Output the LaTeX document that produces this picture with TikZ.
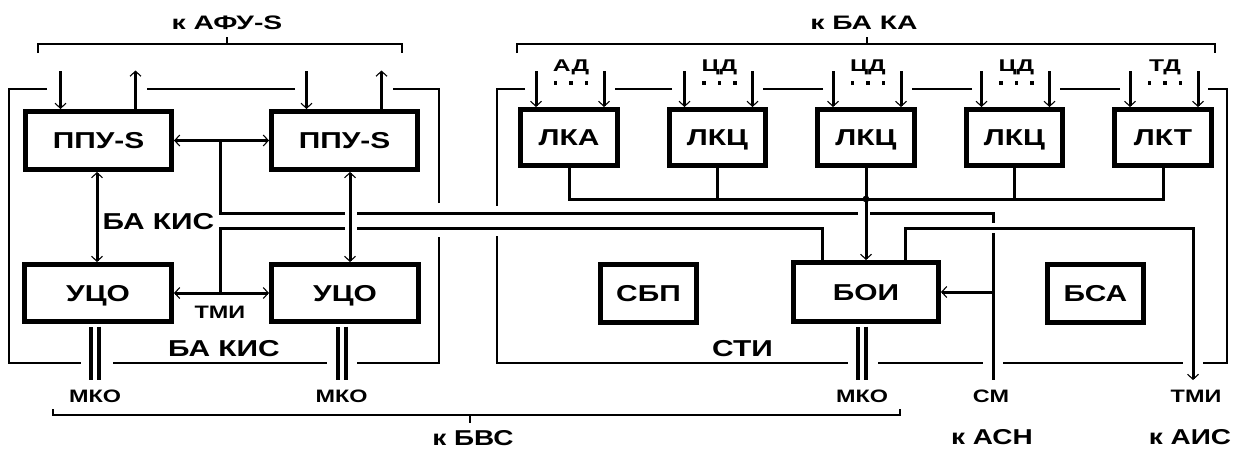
\documentclass[tikz,border=0pt]{standalone}
\usepackage{fontspec}
\setmainfont{Liberation Sans}
\newfontfamily\wf[FakeStretch=1.3]{Liberation Sans}
\newfontfamily\wwf[FakeStretch=1.45]{Liberation Sans}
\usetikzlibrary{arrows.meta,calc}
\tikzset{
  blk/.style={draw, line width=5pt, minimum width=147pt, minimum height=58pt, inner sep=0pt,
    text height=16.5pt, text depth=0pt, font=\wf\bfseries\fontsize{23}{23}\selectfont},
  sblk/.style={blk, minimum width=96.5pt, minimum height=56pt},
  conn/.style={line width=3pt},
  thinl/.style={line width=1.3pt},
  mko/.style={line width=4pt, double=white, double distance=3.5pt},
  labBig/.style={inner sep=0pt, text height=16.5pt, text depth=0pt, font=\wf\bfseries\fontsize{23}{23}\selectfont},
  labTop/.style={inner sep=0pt, text height=14pt, text depth=0pt, font=\wwf\bfseries\fontsize{19.5}{19.5}\selectfont},
  labK/.style={inner sep=0pt, text height=15.5pt, text depth=0pt, font=\wf\bfseries\fontsize{21.5}{21.5}\selectfont},
  labS/.style={inner sep=0pt, text height=13pt, text depth=0pt, font=\wf\bfseries\fontsize{18}{18}\selectfont},
  labD/.style={inner sep=0pt, text height=12pt, text depth=0pt, font=\wwf\bfseries\fontsize{17}{17}\selectfont},
}
\begin{document}
\begin{tikzpicture}[x=1pt,y=-1pt, >={Straight Barb[length=5pt,width=11pt,line width=1.1pt]}]
\useasboundingbox (0,0) rectangle (1238,450);

% boxes
\node[blk, minimum width=146pt, minimum height=58pt] (ppuL) at (98.5,140.5) {ППУ-S};
\node[blk, minimum width=146pt, minimum height=58pt] (ppuR) at (344.5,140.5) {ППУ-S};
\node[blk, minimum width=147pt, minimum height=57pt] (ucoL) at (98,293) {УЦО};
\node[blk, minimum width=147pt, minimum height=57pt] (ucoR) at (345,293) {УЦО};
\node[sblk] (lka) at (569,137.5) {ЛКА};
\node[sblk] (lkc1) at (717.5,137.5) {ЛКЦ};
\node[sblk] (lkc2) at (866,137.5) {ЛКЦ};
\node[sblk] (lkc3) at (1014.5,137.5) {ЛКЦ};
\node[sblk] (lkt) at (1163,137.5) {ЛКТ};
\node[sblk, minimum width=96pt, minimum height=58pt] (sbp) at (648.5,293.5) {СБП};
\node[blk, minimum width=145pt, minimum height=59pt] (boi) at (866,292) {БОИ};
\node[sblk, minimum width=96pt, minimum height=58pt] (bsa) at (1095.5,293.5) {БСА};

% top arrows of PPU
\foreach \b in {ppuL,ppuR}{
  \draw[conn,<-] ([xshift=-38pt]\b.north) -- ++(0,-38.5);
  \draw[conn,->] ([xshift=37pt]\b.north) -- ++(0,-38.5);
}
% top arrows of LK boxes
\foreach \b/\t in {lka/АД,lkc1/ЦД,lkc2/ЦД,lkc3/ЦД,lkt/ТД}{
  \draw[conn,<-] ([xshift=-33pt]\b.north) -- ++(0,-36);
  \draw[conn,<-] ([xshift=35pt]\b.north) -- ++(0,-36);
  \node[labD] (\b-l) at ($(\b.north)+(2,-41.25)$) {\t};
  \foreach \d in {-13.5,2,17.5}
    \fill ($(\b.north)+(\d,-24)$) +(-1.6,-1.6) rectangle +(1.6,1.6);
}

% PPU / UCO links
\draw[conn,<->] (ppuL.east) -- (ppuR.west);
\draw[conn,<->] (ucoL.east) -- (ucoR.west);
\draw[conn,<->] ([xshift=-1.5pt]ppuL.south) -- ([xshift=-1pt]ucoL.north);
\draw[conn,<->] ([xshift=5.5pt]ppuR.south) -- ([xshift=5pt]ucoR.north);

\coordinate (j1) at (220,140.5);
\coordinate (j2) at (220,293);
\coordinate (a1) at (345,213);  \coordinate (b1) at (357,213);
\coordinate (c1) at (858,213);  \coordinate (d1) at (870,213);
\coordinate (e1) at (993,223);  \coordinate (f1) at (993,233);
\coordinate (cmE) at (993,380); \coordinate (cmB) at (993,292);
\coordinate (a2) at (345,228);  \coordinate (b2) at (357,228);
\coordinate (t2) at (1193,228); \coordinate (tmiE) at (1193,380);

% bus line 1 (to SM)
\draw[conn] (j1) |- (a1);
\draw[conn] (b1) -- (c1);
\draw[conn] (d1) -| (e1);
\draw[conn] (f1) -- (cmE);
\draw[conn,->] (cmB) -- (boi.east);
% bus line 2 (TMI)
\draw[conn] (j2) |- (a2);
\draw[conn] (b2) -| ([xshift=-44pt]boi.north);
\draw[conn,->] ([xshift=39pt]boi.north) |- (t2) -- (tmiE);

% LK bus
\coordinate (busdot) at (866,199);
\draw[conn] (lka.south) |- (busdot) -| (lkt.south);
\draw[conn] (lkc1.south) -- (lkc1.south |- busdot);
\draw[conn] (lkc3.south) -- (lkc3.south |- busdot);
\draw[conn,->] (lkc2.south) -- (boi.north);
\fill (busdot) circle (3.4pt);

% MKO
\draw[mko] ([xshift=-3pt,yshift=-2.5pt]ucoL.south) -- ([xshift=-3pt]ucoL.south |- cmE);
\draw[mko] ([xshift=-3pt,yshift=-2.5pt]ucoR.south) -- ([xshift=-3pt]ucoR.south |- cmE);
\draw[mko] ([xshift=-4pt,yshift=-2.5pt]boi.south) -- ([xshift=-4pt]boi.south |- cmE);

% boundary BA KIS
\draw[thinl] (47,89) -- (9,89) -- (9,363) -- (81,363);
\draw[thinl] (113,363) -- (327,363);
\draw[thinl] (357,363) -- (439,363) -- (439,237);
\draw[thinl] (439,203) -- (439,89) -- (393,89);
\draw[thinl] (295,89) -- (147,89);
% boundary STI
\draw[thinl] (525,89) -- (497,89) -- (497,206);
\draw[thinl] (497,236) -- (497,363) -- (848,363);
\draw[thinl] (878,363) -- (983,363);
\draw[thinl] (1003,363) -- (1183,363);
\draw[thinl] (1203,363) -- (1227,363) -- (1227,89) -- (1208,89);
\draw[thinl] (1120,89) -- (1060,89);
\draw[thinl] (972,89) -- (912,89);
\draw[thinl] (823,89) -- (763,89);
\draw[thinl] (672,89) -- (615,89);

% brackets
\node[labTop] (afu) at (227,22) {к АФУ-S};
\draw[thinl] (38,53) -- (38,44) -- (402,44) -- (402,53);
\draw[thinl] (227,44) -- (227,37);
\node[labTop] (baka) at (864,22) {к БА КА};
\draw[thinl] (517,53) -- (517,44) -- (1215,44) -- (1215,53);
\draw[thinl] (867,44) -- (867,37);
\node[labK] (bvs) at (473,437.5) {к БВС};
\draw[thinl] (53,409) -- (53,415) -- (900,415) -- (900,409);
\draw[thinl] (470,415) -- (470,423);

% labels
\node[labBig] (bk1) at (158.5,221.5) {БА КИС};
\node[labBig] (bk2) at (224,348) {БА КИС};
\node[labBig] (sti) at (742.5,348) {СТИ};
\node[labS] (tmi1) at (220,311.5) {ТМИ};
\node[labS] (mko1) at (95,395.5) {МКО};
\node[labS] (mko2) at (341.5,395.5) {МКО};
\node[labS] (mko3) at (862,395.5) {МКО};
\node[labS] (sm) at (991,395.5) {СМ};
\node[labS] (tmi2) at (1196,395.5) {ТМИ};
\node[labK] (asn) at (992,437) {к АСН};
\node[labK] (ais) at (1190,437) {к АИС};
\end{tikzpicture}
\end{document}
